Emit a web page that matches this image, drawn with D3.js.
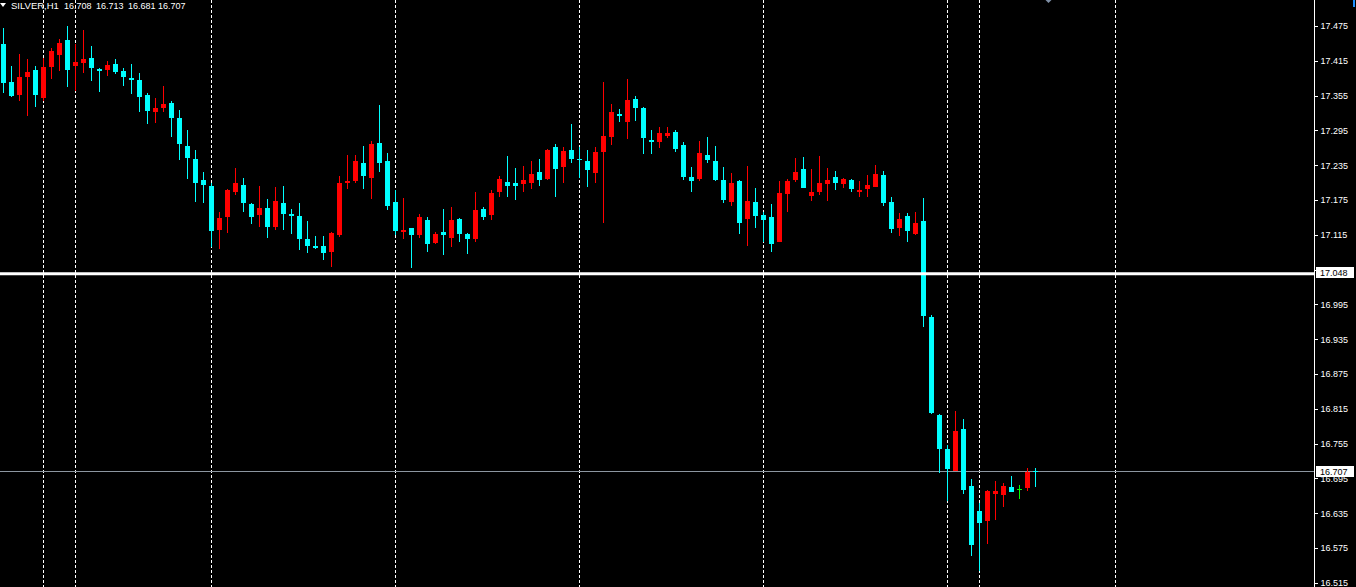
<!DOCTYPE html>
<html><head><meta charset="utf-8">
<script src="https://cdn.jsdelivr.net/npm/d3@7"></script>
<style>html,body{margin:0;padding:0;background:#000;overflow:hidden}svg{display:block}</style>
</head><body>
<svg id="c" width="1356" height="587"></svg>
<script>
const symbol = "SILVER,H1";
const opens = [17.444,17.378,17.356,17.387,17.399,17.351,17.404,17.425,17.451,17.406,
17.411,17.420,17.401,17.399,17.410,17.397,17.385,17.382,17.356,17.327,
17.334,17.342,17.316,17.268,17.246,17.210,17.199,17.123,17.146,17.189,
17.201,17.168,17.150,17.161,17.129,17.170,17.151,17.147,17.108,17.096,
17.096,17.086,17.114,17.205,17.208,17.239,17.213,17.273,17.242,17.172,
17.120,17.126,17.114,17.141,17.101,17.119,17.110,17.142,17.116,17.107,
17.160,17.149,17.189,17.206,17.204,17.203,17.204,17.223,17.211,17.266,
17.232,17.261,17.246,17.242,17.222,17.258,17.284,17.324,17.310,17.349,
17.334,17.278,17.275,17.285,17.292,17.270,17.215,17.211,17.253,17.242,
17.210,17.172,17.208,17.142,17.172,17.149,17.146,17.103,17.185,17.210,
17.228,17.182,17.189,17.203,17.215,17.203,17.210,17.189,17.194,17.197,
17.218,17.172,17.127,17.147,17.116,17.139,16.973,16.804,16.746,16.708,
16.780,16.682,16.639,16.622,16.668,16.666,16.680,16.677,16.679,16.708];
const highs = [17.472,17.406,17.427,17.418,17.406,17.420,17.437,17.453,17.475,17.444,
17.468,17.441,17.403,17.415,17.418,17.403,17.410,17.394,17.359,17.351,
17.372,17.346,17.330,17.296,17.261,17.223,17.204,17.154,17.194,17.230,
17.213,17.170,17.199,17.177,17.197,17.199,17.160,17.170,17.139,17.113,
17.113,17.119,17.216,17.253,17.253,17.268,17.277,17.339,17.256,17.192,
17.178,17.127,17.151,17.145,17.119,17.160,17.163,17.144,17.118,17.189,
17.163,17.192,17.216,17.251,17.230,17.234,17.242,17.246,17.263,17.272,
17.266,17.306,17.266,17.261,17.266,17.378,17.341,17.332,17.384,17.354,
17.335,17.296,17.301,17.301,17.296,17.275,17.232,17.277,17.284,17.268,
17.232,17.222,17.210,17.234,17.196,17.154,17.168,17.208,17.211,17.247,
17.249,17.228,17.251,17.230,17.225,17.213,17.211,17.208,17.218,17.235,
17.225,17.180,17.153,17.153,17.154,17.178,16.977,16.806,16.753,16.811,
16.797,16.694,16.653,16.675,16.691,16.687,16.699,16.684,16.713,16.713];
const lows = [17.360,17.353,17.345,17.320,17.335,17.346,17.384,17.397,17.370,17.363,
17.394,17.380,17.361,17.389,17.392,17.372,17.358,17.327,17.306,17.308,
17.327,17.284,17.244,17.211,17.172,17.170,17.094,17.091,17.118,17.184,
17.155,17.134,17.129,17.110,17.124,17.124,17.117,17.088,17.084,17.091,
17.072,17.060,17.112,17.194,17.205,17.194,17.176,17.224,17.158,17.115,
17.108,17.058,17.110,17.086,17.100,17.081,17.094,17.103,17.082,17.103,
17.141,17.141,17.180,17.180,17.175,17.189,17.194,17.199,17.210,17.180,
17.204,17.239,17.213,17.197,17.204,17.135,17.270,17.310,17.280,17.311,
17.254,17.254,17.265,17.282,17.258,17.210,17.189,17.208,17.239,17.208,
17.170,17.165,17.116,17.096,17.127,17.103,17.085,17.103,17.154,17.206,
17.196,17.173,17.184,17.173,17.192,17.196,17.189,17.180,17.180,17.197,
17.165,17.118,17.113,17.103,17.115,16.956,16.806,16.704,16.656,16.708,
16.668,16.561,16.535,16.582,16.623,16.646,16.672,16.660,16.673,16.681];
const closes = [17.376,17.355,17.387,17.396,17.356,17.404,17.432,17.446,17.399,17.413,
17.418,17.403,17.397,17.408,17.396,17.387,17.382,17.353,17.328,17.334,
17.341,17.316,17.272,17.247,17.204,17.201,17.122,17.144,17.192,17.204,
17.169,17.145,17.161,17.129,17.173,17.151,17.148,17.108,17.096,17.093,
17.084,17.118,17.204,17.208,17.242,17.217,17.272,17.239,17.165,17.122,
17.124,17.115,17.145,17.100,17.117,17.115,17.141,17.117,17.107,17.158,
17.146,17.187,17.211,17.199,17.200,17.210,17.220,17.210,17.261,17.228,
17.260,17.246,17.244,17.227,17.258,17.285,17.327,17.320,17.347,17.334,
17.282,17.275,17.291,17.291,17.263,17.215,17.208,17.256,17.244,17.210,
17.175,17.204,17.135,17.173,17.147,17.141,17.099,17.187,17.208,17.223,
17.196,17.189,17.204,17.210,17.204,17.211,17.194,17.192,17.201,17.220,
17.170,17.125,17.142,17.122,17.135,16.975,16.808,16.746,16.711,16.777,
16.675,16.580,16.618,16.673,16.673,16.682,16.672,16.677,16.706,16.707];
const separators = [5, 9, 26, 49, 72, 95, 118, 122, 139];
const levelLine = 17.048;
const bidPrice = 16.707;
const tickValues = [17.475,17.415,17.355,17.295,17.235,17.175,17.115,17.055,16.995,16.935,16.875,16.815,16.755,16.695,16.635,16.575,16.515];

const W = 1356, H = 587, axisX = 1314.5;
const FONT = '"Liberation Sans", Arial, sans-serif';
const fmt = d3.format(".3f");
const y = d3.scaleLinear().domain([16.515, 17.475]).range([582.8, 26]);
const x = d3.scaleLinear().domain([0, 1]).range([3.5, 11.5]);

const data = opens.map((o, i) => ({i, o, h: highs[i], l: lows[i], c: closes[i]}));
const color = d => d.c > d.o ? "#ff0000" : (d.c < d.o ? "#00ffff" : "#00ff00");

const svg = d3.select("#c");
svg.append("rect").attr("width", W).attr("height", H).attr("fill", "#000");

// period separators (behind candles)
svg.selectAll("line.sep").data(separators).join("line").attr("class", "sep")
  .attr("x1", d => x(d)).attr("x2", d => x(d)).attr("y1", 0).attr("y2", H)
  .attr("stroke", "#fff").attr("stroke-width", 1).attr("stroke-dasharray", "3,2")
  .attr("shape-rendering", "crispEdges");

// bid line (background)
const by = Math.round(y(bidPrice)) + 0.5;
svg.append("line").attr("x1", 0).attr("x2", axisX).attr("y1", by).attr("y2", by)
  .attr("stroke", "#8c96a0").attr("stroke-width", 1);

const g = svg.append("g").attr("shape-rendering", "crispEdges");
g.selectAll("rect.w").data(data).join("rect").attr("class", "w")
  .attr("x", d => x(d.i) - 0.5).attr("width", 1)
  .attr("y", d => y(d.h)).attr("height", d => Math.max(1, y(d.l) - y(d.h)))
  .attr("fill", color);
g.selectAll("rect.b").data(data).join("rect").attr("class", "b")
  .attr("x", d => x(d.i) - 2.5).attr("width", 5)
  .attr("y", d => Math.min(y(d.o), y(d.c)))
  .attr("height", d => Math.max(1, Math.abs(y(d.o) - y(d.c))))
  .attr("fill", color);

// horizontal level line (on top)
svg.append("line").attr("x1", 0).attr("x2", axisX).attr("y1", y(levelLine)).attr("y2", y(levelLine))
  .attr("stroke", "#fff").attr("stroke-width", 3);

// price axis
const axis = d3.axisRight(y).tickValues(tickValues).tickFormat(fmt).tickSize(3).tickPadding(3);
const ag = svg.append("g").attr("transform", `translate(${axisX},0)`).call(axis);
ag.select(".domain").remove();
ag.append("line").attr("x1", 0).attr("x2", 0).attr("y1", 0).attr("y2", H).attr("stroke", "#fff").attr("shape-rendering", "crispEdges");
ag.selectAll(".tick line").attr("stroke", "#fff").attr("shape-rendering", "crispEdges");
ag.selectAll(".tick text").attr("fill", "#fff").style("font-family", FONT).style("font-size", "9px");

// price labels on axis
[[levelLine, -7], [bidPrice, -5]].forEach(([p, off]) => {
  const yy = Math.round(y(p));
  svg.append("rect").attr("x", 1316).attr("y", yy + off).attr("width", 38).attr("height", 11).attr("fill", "#fff");
  svg.append("text").attr("x", 1320).attr("y", yy + off + 5.5).attr("dy", "0.35em").attr("fill", "#000")
    .style("font-family", FONT).style("font-size", "9px").text(fmt(p));
});

// header
const last = data[data.length - 1];
svg.append("path").attr("d", "M0,3 L6,3 L3,7 Z").attr("fill", "#fff");
svg.append("text").attr("x", 11).attr("y", 9).attr("fill", "#fff").style("font-family", FONT).style("font-size", "9.5px").text(symbol);
const hx = [64, 96, 128, 158];
[last.o, last.h, last.l, last.c].forEach((v, k) => {
  svg.append("text").attr("x", hx[k]).attr("y", 9).attr("fill", "#fff").style("font-family", FONT).style("font-size", "9px").text(fmt(v));
});

// chart shift marker & corner mark
svg.append("path").attr("d", "M1045.5,0 L1051.5,0 L1048.5,3 Z").attr("fill", "#7f8fa6");
svg.append("rect").attr("x", 1353).attr("y", 0).attr("width", 2).attr("height", 7).attr("fill", "#1e90ff");
</script>
</body></html>
